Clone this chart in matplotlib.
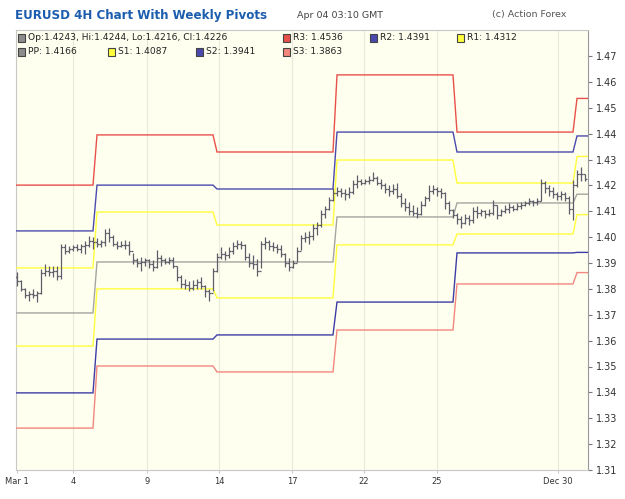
import matplotlib
matplotlib.use("Agg")
import matplotlib.pyplot as plt
from matplotlib.patches import Rectangle
import numpy as np

# ---------------- data ----------------
highs = [1.3865, 1.3835, 1.3805, 1.3790, 1.3800, 1.3790, 1.3875, 1.3895, 1.3890, 1.3890,
         1.3890, 1.3975, 1.3975, 1.3965, 1.3970, 1.3975, 1.3975, 1.3985, 1.4005, 1.4000,
         1.3995, 1.3990, 1.4030, 1.4035, 1.4010, 1.3985, 1.3985, 1.3990, 1.3985, 1.3940,
         1.3920, 1.3925, 1.3920, 1.3915, 1.3910, 1.3950, 1.3930, 1.3920, 1.3925, 1.3925,
         1.3890, 1.3855, 1.3840, 1.3830, 1.3835, 1.3840, 1.3845, 1.3815, 1.3800, 1.3880,
         1.3940, 1.3960, 1.3945, 1.3960, 1.3980, 1.3990, 1.3985, 1.3975, 1.3940, 1.3930,
         1.3915, 1.3985, 1.4000, 1.3990, 1.3980, 1.3975, 1.3970, 1.3940, 1.3920, 1.3910,
         1.3960, 1.4010, 1.4020, 1.4025, 1.4050, 1.4060, 1.4105, 1.4120, 1.4155, 1.4190,
         1.4195, 1.4190, 1.4185, 1.4195, 1.4220, 1.4240, 1.4225, 1.4225, 1.4235, 1.4250,
         1.4235, 1.4225, 1.4210, 1.4200, 1.4205, 1.4210, 1.4170, 1.4150, 1.4135, 1.4125,
         1.4115, 1.4140, 1.4160, 1.4200, 1.4200, 1.4195, 1.4190, 1.4175, 1.4140, 1.4110,
         1.4095, 1.4080, 1.4090, 1.4085, 1.4115, 1.4120, 1.4110, 1.4105, 1.4110, 1.4145,
         1.4125, 1.4110, 1.4125, 1.4130, 1.4125, 1.4130, 1.4135, 1.4140, 1.4150, 1.4145,
         1.4150, 1.4225, 1.4215, 1.4200, 1.4195, 1.4175, 1.4180, 1.4175, 1.4160, 1.4220,
         1.4260, 1.4270, 1.4244]
lows = [1.3810, 1.3790, 1.3765, 1.3755, 1.3765, 1.3750, 1.3780, 1.3850, 1.3850, 1.3845,
        1.3835, 1.3840, 1.3935, 1.3940, 1.3945, 1.3945, 1.3940, 1.3935, 1.3960, 1.3955,
        1.3960, 1.3960, 1.3965, 1.3980, 1.3965, 1.3955, 1.3960, 1.3955, 1.3930, 1.3895,
        1.3885, 1.3870, 1.3890, 1.3880, 1.3870, 1.3880, 1.3890, 1.3895, 1.3895, 1.3880,
        1.3830, 1.3805, 1.3800, 1.3790, 1.3795, 1.3800, 1.3800, 1.3770, 1.3755, 1.3790,
        1.3865, 1.3915, 1.3910, 1.3920, 1.3935, 1.3955, 1.3955, 1.3910, 1.3885, 1.3875,
        1.3850, 1.3880, 1.3955, 1.3950, 1.3945, 1.3940, 1.3925, 1.3885, 1.3870, 1.3880,
        1.3905, 1.3950, 1.3980, 1.3975, 1.3990, 1.4010, 1.4040, 1.4075, 1.4105, 1.4140,
        1.4160, 1.4155, 1.4145, 1.4150, 1.4165, 1.4190, 1.4200, 1.4205, 1.4205, 1.4215,
        1.4200, 1.4185, 1.4170, 1.4160, 1.4165, 1.4150, 1.4115, 1.4100, 1.4085, 1.4080,
        1.4075, 1.4085, 1.4120, 1.4140, 1.4165, 1.4160, 1.4150, 1.4110, 1.4090, 1.4075,
        1.4050, 1.4035, 1.4050, 1.4045, 1.4055, 1.4075, 1.4080, 1.4075, 1.4080, 1.4085,
        1.4070, 1.4080, 1.4095, 1.4095, 1.4100, 1.4105, 1.4110, 1.4120, 1.4125, 1.4120,
        1.4125, 1.4140, 1.4170, 1.4160, 1.4150, 1.4145, 1.4145, 1.4140, 1.4090, 1.4065,
        1.4195, 1.4215, 1.4216]
closes = [1.3830, 1.3800, 1.3775, 1.3780, 1.3775, 1.3785, 1.3860, 1.3870, 1.3865, 1.3870,
          1.3850, 1.3960, 1.3945, 1.3955, 1.3960, 1.3955, 1.3965, 1.3970, 1.3985, 1.3980,
          1.3975, 1.3980, 1.4015, 1.4000, 1.3975, 1.3965, 1.3970, 1.3970, 1.3945, 1.3910,
          1.3900, 1.3905, 1.3910, 1.3895, 1.3885, 1.3920, 1.3910, 1.3905, 1.3910, 1.3890,
          1.3845, 1.3820, 1.3815, 1.3805, 1.3815, 1.3825, 1.3810, 1.3790, 1.3785, 1.3870,
          1.3925, 1.3935, 1.3930, 1.3945, 1.3965, 1.3975, 1.3970, 1.3925, 1.3900, 1.3895,
          1.3870, 1.3975, 1.3980, 1.3965, 1.3960, 1.3955, 1.3935, 1.3900, 1.3885, 1.3900,
          1.3945, 1.3995, 1.4000, 1.4005, 1.4035, 1.4045, 1.4090, 1.4110, 1.4145, 1.4170,
          1.4180, 1.4170, 1.4165, 1.4175, 1.4205, 1.4215, 1.4210, 1.4215, 1.4220, 1.4230,
          1.4210, 1.4200, 1.4185, 1.4180, 1.4185, 1.4160, 1.4130, 1.4115, 1.4100, 1.4095,
          1.4090, 1.4125, 1.4150, 1.4180, 1.4185, 1.4180, 1.4170, 1.4130, 1.4105, 1.4085,
          1.4070, 1.4055, 1.4075, 1.4065, 1.4100, 1.4095, 1.4100, 1.4090, 1.4095, 1.4125,
          1.4085, 1.4100, 1.4110, 1.4115, 1.4110, 1.4120, 1.4125, 1.4130, 1.4140, 1.4135,
          1.4140, 1.4210, 1.4190, 1.4180, 1.4165, 1.4160, 1.4165, 1.4150, 1.4110, 1.4200,
          1.4245, 1.4243, 1.4226]
first_open = 1.3845
last_open = 1.4243

week_start = [0, 20, 50, 80, 110, 140]
R3 = [1.4201, 1.4395, 1.4329, 1.4627, 1.4406, 1.4536]
R2 = [1.4024, 1.4201, 1.4186, 1.4406, 1.4329, 1.4391]
R1 = [1.3881, 1.4097, 1.4047, 1.4298, 1.4209, 1.4312]
PP = [1.3707, 1.3904, 1.3904, 1.4078, 1.4132, 1.4166]
S1 = [1.3579, 1.3800, 1.3765, 1.3970, 1.4012, 1.4087]
S2 = [1.3398, 1.3606, 1.3622, 1.3749, 1.3939, 1.3941]
S3 = [1.3262, 1.3502, 1.3479, 1.3641, 1.3819, 1.3863]

x_tick_pos = [0, 14, 32.5, 50.5, 68.75, 86.75, 105, 135.25]
x_tick_labels = ["Mar 1", "4", "9", "14", "17", "22", "25", "Dec 30"]
y_ticks = [1.31, 1.32, 1.33, 1.34, 1.35, 1.36, 1.37, 1.38, 1.39, 1.40,
           1.41, 1.42, 1.43, 1.44, 1.45, 1.46, 1.47]

title = "EURUSD 4H Chart With Weekly Pivots"
stamp = "Apr 04 03:10 GMT"
credit = "(c) Action Forex"

# ---------------- figure ----------------
W, H = 625, 499
fig = plt.figure(figsize=(W / 100, H / 100), dpi=100)
fig.patch.set_facecolor("white")
ax = fig.add_axes([16 / W, 1 - 470 / H, (588 - 16) / W, (470 - 30) / H])
ax.set_facecolor("#FFFFF0")

n = len(highs)
idx = np.arange(n)
opens = [first_open] + closes[:-1]
opens[-1] = last_open

bar_col = "#5E5E6A"
ax.vlines(idx, lows, highs, color=bar_col, lw=0.9, zorder=4)
ax.hlines(opens, idx - 0.45, idx, color=bar_col, lw=0.9, zorder=4)
ax.hlines(closes, idx, idx + 0.45, color=bar_col, lw=0.9, zorder=4)

x_lo, x_hi = -0.25, 142.75
week_of_bar = np.searchsorted(week_start, idx, side="right") - 1


def level_line(vals, color):
    y = np.array(vals)[week_of_bar]
    xs = np.concatenate([[x_lo], idx, [x_hi]])
    ys = np.concatenate([[y[0]], y, [y[-1]]])
    ax.plot(xs, ys, color=color, lw=1.0, zorder=3, solid_joinstyle="miter")


level_line(R3, "#E8504A")
level_line(S3, "#F2877E")
level_line(R2, "#4A4AAE")
level_line(S2, "#3C3CA6")
level_line(R1, "#FFFF3C")
level_line(S1, "#FFFF3C")
level_line(PP, "#A5A5A0")

ax.set_xlim(x_lo, x_hi)
ax.set_ylim(1.31, 1.47 + 26 / 2587.5)

for xp in x_tick_pos[1:]:
    ax.axvline(xp, color="#EAEADC", lw=0.8, zorder=1)

ax.yaxis.tick_right()
ax.set_yticks(y_ticks)
ax.set_yticklabels([f"{v:.2f}" for v in y_ticks])
ax.set_xticks(x_tick_pos)
ax.set_xticklabels(x_tick_labels)
ax.tick_params(axis="y", right=True, left=False, direction="out", length=3,
               width=0.8, color="#777777", labelsize=7, labelcolor="#333333", pad=3)
ax.tick_params(axis="x", direction="out", length=2, width=0.6, color="#BBBBBB",
               labelsize=6, labelcolor="#333333", pad=3)
for sp in ["left", "bottom", "top"]:
    ax.spines[sp].set_color("#C8C8C8")
    ax.spines[sp].set_linewidth(0.8)
ax.spines["right"].set_color("#999999")
ax.spines["right"].set_linewidth(0.8)

# ---------------- header texts ----------------
fig.text(15 / W, 1 - 15 / H, title, fontsize=8.6, fontweight="bold",
         color="#1C5DAE", va="center", ha="left")
fig.text(297 / W, 1 - 15 / H, stamp, fontsize=6.8, color="#444444",
         va="center", ha="left")
fig.text(492 / W, 1 - 15 / H, credit, fontsize=6.8, color="#555555",
         va="center", ha="left")

# ---------------- legend inside plot ----------------
def legend_item(px, py, color, label, edge="#444444"):
    s = 7
    fig.add_artist(Rectangle((px / W, 1 - (py + s / 2) / H), s / W, s / H,
                             transform=fig.transFigure, facecolor=color,
                             edgecolor=edge, lw=0.8, zorder=10))
    fig.text((px + 10) / W, 1 - py / H, label, fontsize=6.6, color="#222222",
             va="center", ha="left", zorder=10)


legend_item(18, 38, "#8C8C8C",
            f"Op:{last_open:.4f}, Hi:{highs[-1]:.4f}, Lo:{lows[-1]:.4f}, Cl:{closes[-1]:.4f}")
legend_item(283, 38, "#E8504A", f"R3: {R3[-1]:.4f}")
legend_item(370, 38, "#4A4AAE", f"R2: {R2[-1]:.4f}")
legend_item(457, 38, "#FFFF3C", f"R1: {R1[-1]:.4f}")
legend_item(18, 52, "#8C8C8C", f"PP: {PP[-1]:.4f}")
legend_item(108, 52, "#FFFF3C", f"S1: {S1[-1]:.4f}")
legend_item(196, 52, "#4A4AAE", f"S2: {S2[-1]:.4f}")
legend_item(283, 52, "#F2877E", f"S3: {S3[-1]:.4f}")

fig.savefig("out.png", dpi=100, facecolor="white")
